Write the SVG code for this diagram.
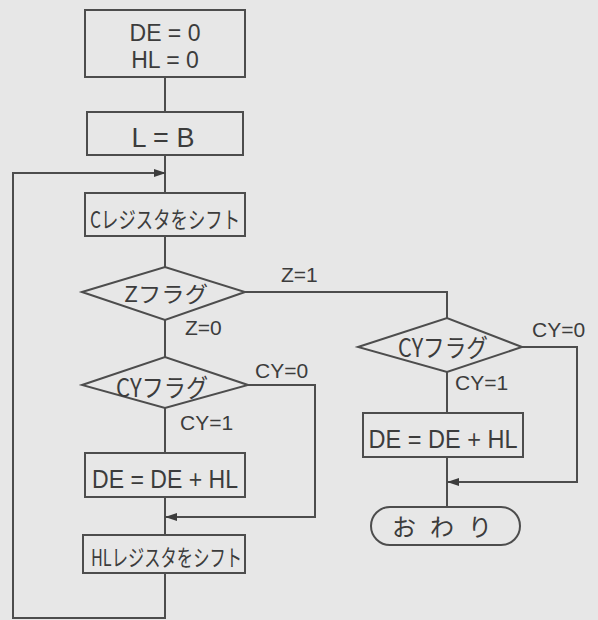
<svg xmlns="http://www.w3.org/2000/svg" width="598" height="620" viewBox="0 0 598 620">
<style>
.bg{fill:#e7e7e7}
.shape{fill:#e7e7e7;stroke:#4d4d4d;stroke-width:2}
.edge{fill:none;stroke:#4d4d4d;stroke-width:2}
.t{font-family:"Liberation Sans","Noto Sans CJK JP",sans-serif;fill:#3c3c3c;text-anchor:middle}
.j{font-family:"Noto Sans CJK JP","Liberation Sans",sans-serif;fill:#3c3c3c}
.lbl{font-family:"Liberation Sans",sans-serif;fill:#3c3c3c;font-size:21px}
</style>
<defs>
<marker id="ah" viewBox="0 0 12 8" refX="11" refY="4" markerWidth="13" markerHeight="8" markerUnits="userSpaceOnUse" orient="auto">
<path d="M0,0 L12,4 L0,8 Z" fill="#3c3c3c"/>
</marker>
</defs>
<rect class="bg" x="0" y="0" width="598" height="620"/>
<g id="connectors">
<path class="edge" d="M165,77 V112"/>
<path class="edge" d="M165,155 V193"/>
<path class="edge" d="M165,236 V267"/>
<path class="edge" d="M165,320 V357"/>
<path class="edge" d="M165,408 V453"/>
<path class="edge" d="M165,497 V535"/>
<path class="edge" d="M165,573 V618 H13 V173 H165" marker-end="url(#ah)"/>
<path class="edge" d="M248,385 H315 V517 H166" marker-end="url(#ah)"/>
<path class="edge" d="M245,292 H447 V318"/>
<path class="edge" d="M447,372 V413"/>
<path class="edge" d="M447,457 V507"/>
<path class="edge" d="M522,347 H577 V482 H448" marker-end="url(#ah)"/>
<text class="lbl" x="281" y="282">Z=1</text>
<text class="lbl" x="185" y="335">Z=0</text>
<text class="lbl" x="255" y="378">CY=0</text>
<text class="lbl" x="180" y="430">CY=1</text>
<text class="lbl" x="532" y="337">CY=0</text>
<text class="lbl" x="455" y="390">CY=1</text>
</g>
<g id="init">
<rect class="shape" x="85" y="10" width="160" height="67"/>
<text class="t" x="165" y="41" font-size="23">DE = 0</text>
<text class="t" x="165" y="68" font-size="23">HL = 0</text>
</g>
<g id="setL">
<rect class="shape" x="87" y="112" width="156" height="43"/>
<text class="t" x="163" y="147" font-size="27">L = B</text>
</g>
<g id="shiftC">
<rect class="shape" x="85" y="193" width="160" height="43"/>
<text class="j" x="90" y="228" font-size="23" textLength="150" lengthAdjust="spacingAndGlyphs">Cレジスタをシフト</text>
</g>
<g id="zflag">
<polygon class="shape" points="82,292 165,267 245,292 165,320"/>
<text class="j" x="124" y="302" font-size="22" textLength="84" lengthAdjust="spacingAndGlyphs">Zフラグ</text>
</g>
<g id="cyflag1">
<polygon class="shape" points="82,385 165,357 248,385 165,408"/>
<text class="j" x="116" y="397" font-size="25" textLength="92" lengthAdjust="spacingAndGlyphs">CYフラグ</text>
</g>
<g id="add1">
<rect class="shape" x="85" y="453" width="160" height="44"/>
<text class="t" x="165" y="488" font-size="25" textLength="146" lengthAdjust="spacingAndGlyphs">DE = DE + HL</text>
</g>
<g id="shiftHL">
<rect class="shape" x="83" y="535" width="162" height="38"/>
<text class="j" x="91" y="566" font-size="23" textLength="151" lengthAdjust="spacingAndGlyphs">HLレジスタをシフト</text>
</g>
<g id="cyflag2">
<polygon class="shape" points="358,347 447,318 522,347 447,372"/>
<text class="j" x="398" y="357" font-size="25" textLength="90" lengthAdjust="spacingAndGlyphs">CYフラグ</text>
</g>
<g id="add2">
<rect class="shape" x="363" y="413" width="160" height="44"/>
<text class="t" x="443" y="448" font-size="26" textLength="149" lengthAdjust="spacingAndGlyphs">DE = DE + HL</text>
</g>
<g id="end">
<rect class="shape" x="371" y="507" width="149" height="38" rx="19"/>
<text class="j" x="392" y="536" font-size="24" textLength="100" lengthAdjust="spacing">おわり</text>
</g>
</svg>
